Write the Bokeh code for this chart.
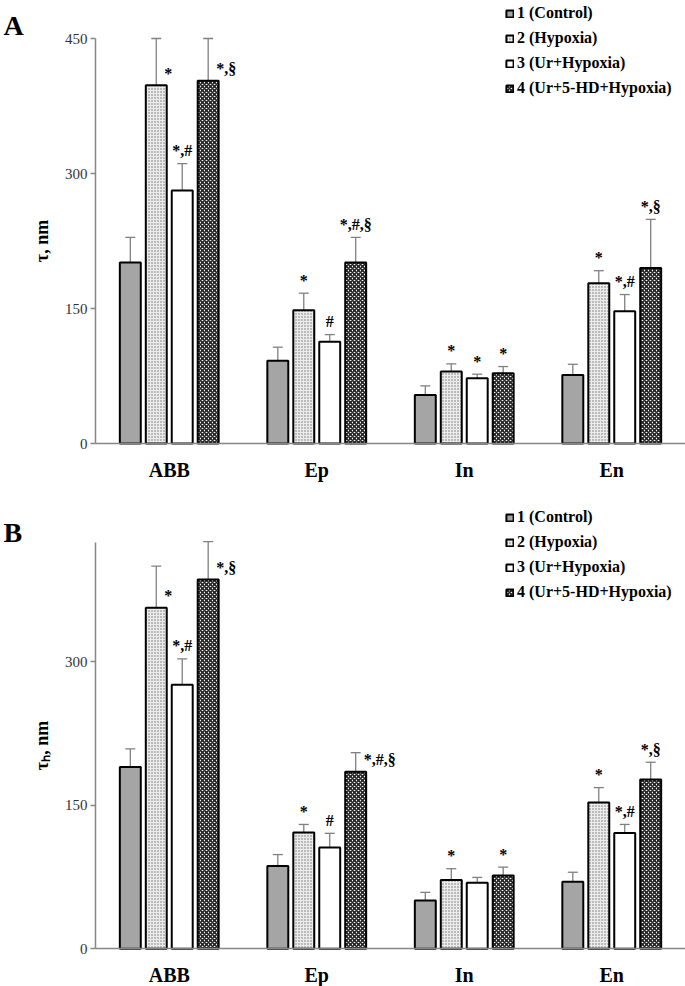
from bokeh.plotting import figure
from bokeh.models import (ColumnDataSource, Range1d, FixedTicker, Whisker, TeeHead,
                          Legend, LegendItem, Label, LinearAxis)
from bokeh.layouts import column
from bokeh.embed import file_html
from bokeh.resources import INLINE
from bokeh.core.properties import value

# ---------------- data ----------------
regions = ["ABB", "Ep", "In", "En"]
groups = ["1 (Control)", "2 (Hypoxia)", "3 (Ur+Hypoxia)", "4 (Ur+5-HD+Hypoxia)"]

# Panel A: tau, nm  (mean, SD)
a_control = [201, 92, 54, 76]
a_control_sd = [28, 15, 10, 12]
a_hypoxia = [398, 148, 80, 178]
a_hypoxia_sd = [52, 19, 8.5, 14]
a_ur = [281, 113, 72.5, 147]
a_ur_sd = [30, 8, 4.5, 18.5]
a_ur5hd = [403, 201, 78, 195]
a_ur5hd_sd = [47, 28, 7.5, 54]

# Panel B: tau_h, nm  (mean, SD)
b_control = [190, 86.5, 50.5, 70]
b_control_sd = [19, 12, 8.5, 10]
b_hypoxia = [356.5, 121.5, 72, 153]
b_hypoxia_sd = [43.5, 8.5, 11.7, 15.5]
b_ur = [276, 106, 69, 121]
b_ur_sd = [27, 14.7, 5.6, 9]
b_ur5hd = [386, 185, 76.7, 177]
b_ur5hd_sd = [39.6, 20, 8.7, 18]

# significance marks per group (control has none)
a_marks = [["", "", "", ""],
           ["*", "*", "*", "*"],
           ["*,#", "#", "*", "*,#"],
           ["*,§", "*,#,§", "*", "*,§"]]
a_place = [["", "", "", ""],
           ["right", "top", "top", "top"],
           ["top", "top", "top", "top"],
           ["right", "top", "top", "top"]]
b_marks = [["", "", "", ""],
           ["*", "*", "*", "*"],
           ["*,#", "#", "", "*,#"],
           ["*,§", "*,#,§", "*", "*,§"]]
b_place = [["", "", "", ""],
           ["right", "top", "top", "top"],
           ["top", "top", "top", "top"],
           ["right", "right", "top", "top"]]

a_ymax = 450
b_ymax = 425
a_ticks = [0, 150, 300, 450]
b_ticks = [0, 150, 300]

# ---------------- layout / styles ----------------
W = 685
AXIS_X = 95          # pixel position of the value axis
CAT_PX = 147.5       # pixel width of one region category
SERIF = "Liberation Serif"
AXIS_GRAY = "#868686"
ERR_GRAY = "#808080"
BAR_W = 0.142
OFFS = [-0.264, -0.088, 0.088, 0.264]
STYLES = [
    dict(fill_color="#a5a5a5"),
    dict(fill_color="#ececec", hatch_pattern="dot", hatch_color="#6e6e6e",
         hatch_scale=3, hatch_weight=1.2),
    dict(fill_color="#ffffff"),
    dict(fill_color="#ffffff", hatch_pattern="diagonal_cross", hatch_color="#222222",
         hatch_scale=4, hatch_weight=1.6),
]


def make_panel(letter, ylabel, series, sds, marks, places, ymax, ticks,
               height, axis_top_px, zero_px, legend_y, letter_y):
    scale = (zero_px - axis_top_px) / ymax
    x_range = Range1d(-AXIS_X / CAT_PX, (W - AXIS_X) / CAT_PX)
    y_range = Range1d(-(height - zero_px) / scale, zero_px / scale)
    p = figure(width=W, height=height, x_range=x_range, y_range=y_range,
               output_backend="svg", toolbar_location=None,
               x_axis_location=None, y_axis_location=None,
               min_border=0)
    p.outline_line_color = None
    p.xgrid.visible = False
    p.ygrid.visible = False
    p.background_fill_color = None
    p.border_fill_color = "white"

    items = []
    for j in range(4):
        xs = [i + 0.5 + OFFS[j] for i in range(4)]
        tops = series[j]
        uppers = [t + s for t, s in zip(tops, sds[j])]
        src = ColumnDataSource(dict(x=xs, top=tops, upper=uppers))
        w = Whisker(source=src, base="x", lower="top", upper="upper",
                    line_color=ERR_GRAY, line_width=1.3, lower_head=None,
                    upper_head=TeeHead(size=10, line_color=ERR_GRAY, line_width=1.3))
        p.add_layout(w)
        r = p.vbar(x="x", top="top", width=BAR_W, bottom=0, source=src,
                   line_color="black", line_width=2, **STYLES[j])
        items.append(LegendItem(label=groups[j], renderers=[r]))

        # significance marks
        top_d = dict(x=[], y=[], t=[])
        right_d = dict(x=[], y=[], t=[])
        for i in range(4):
            m = marks[j][i]
            if not m:
                continue
            if places[j][i] == "top":
                top_d["x"].append(xs[i]); top_d["y"].append(uppers[i]); top_d["t"].append(m)
            else:
                right_d["x"].append(xs[i]); right_d["y"].append(tops[i]); right_d["t"].append(m)
        common = dict(text_font=value(SERIF), text_font_style="bold", text_font_size="16px",
                      text_color="black", text_baseline="middle")
        if top_d["x"]:
            p.text(x="x", y="y", text="t", source=ColumnDataSource(top_d),
                   text_align="center", y_offset=-13, **common)
        if right_d["x"]:
            p.text(x="x", y="y", text="t", source=ColumnDataSource(right_d),
                   text_align="left", x_offset=8, y_offset=-12, **common)

    legend = Legend(items=items, location=(505, legend_y), orientation="vertical",
                    glyph_width=9, glyph_height=9, label_height=20, spacing=5,
                    padding=0, margin=0, label_standoff=3,
                    label_text_font=SERIF, label_text_font_style="bold",
                    label_text_font_size="16px", label_text_color="black",
                    background_fill_alpha=0, border_line_color=None)
    p.add_layout(legend, "center")

    # category axis
    xa = LinearAxis(fixed_location=0, bounds=(0, 4))
    xa.ticker = FixedTicker(ticks=[0.5, 1.5, 2.5, 3.5])
    xa.major_label_overrides = {0.5: regions[0], 1.5: regions[1], 2.5: regions[2], 3.5: regions[3]}
    xa.major_tick_out = 0
    xa.major_tick_in = 0
    xa.minor_tick_out = 0
    xa.minor_tick_in = 0
    xa.axis_line_color = AXIS_GRAY
    xa.axis_line_width = 1.5
    xa.major_label_text_font = SERIF
    xa.major_label_text_font_style = "bold"
    xa.major_label_text_font_size = "20px"
    xa.major_label_text_color = "black"
    xa.major_label_standoff = 15
    p.add_layout(xa, "below")

    # value axis
    ya = LinearAxis(fixed_location=0, bounds=(0, ymax))
    ya.ticker = FixedTicker(ticks=ticks)
    ya.major_tick_out = 5
    ya.major_tick_in = 0
    ya.minor_tick_out = 0
    ya.minor_tick_in = 0
    ya.axis_line_color = AXIS_GRAY
    ya.axis_line_width = 1.5
    ya.major_tick_line_color = AXIS_GRAY
    ya.major_tick_line_width = 1.3
    ya.major_label_text_font = SERIF
    ya.major_label_text_font_size = "15px"
    ya.major_label_text_color = "#333333"
    ya.major_label_standoff = 3
    ya.axis_label = ylabel
    ya.axis_label_text_font = SERIF
    ya.axis_label_text_font_style = "bold"
    ya.axis_label_text_font_size = "18px"
    ya.axis_label_text_color = "black"
    ya.axis_label_standoff = 10
    p.add_layout(ya, "left")

    lab = Label(x=3, y=height - letter_y, x_units="screen", y_units="screen", text=letter,
                text_font=SERIF, text_font_style="bold", text_font_size="28px",
                text_color="black", text_baseline="alphabetic")
    p.add_layout(lab)
    return p


pa = make_panel("A", "τ, nm",
                [a_control, a_hypoxia, a_ur, a_ur5hd],
                [a_control_sd, a_hypoxia_sd, a_ur_sd, a_ur5hd_sd],
                a_marks, a_place, a_ymax, a_ticks,
                height=486, axis_top_px=38, zero_px=443, legend_y=388, letter_y=25)
pb = make_panel("B", "τₕ, nm",
                [b_control, b_hypoxia, b_ur, b_ur5hd],
                [b_control_sd, b_hypoxia_sd, b_ur_sd, b_ur5hd_sd],
                b_marks, b_place, b_ymax, b_ticks,
                height=500, axis_top_px=55.7, zero_px=462.3, legend_y=384, letter_y=46)

layout = column(pa, pb, spacing=0)
open("out.html", "w").write(file_html(layout, INLINE))
